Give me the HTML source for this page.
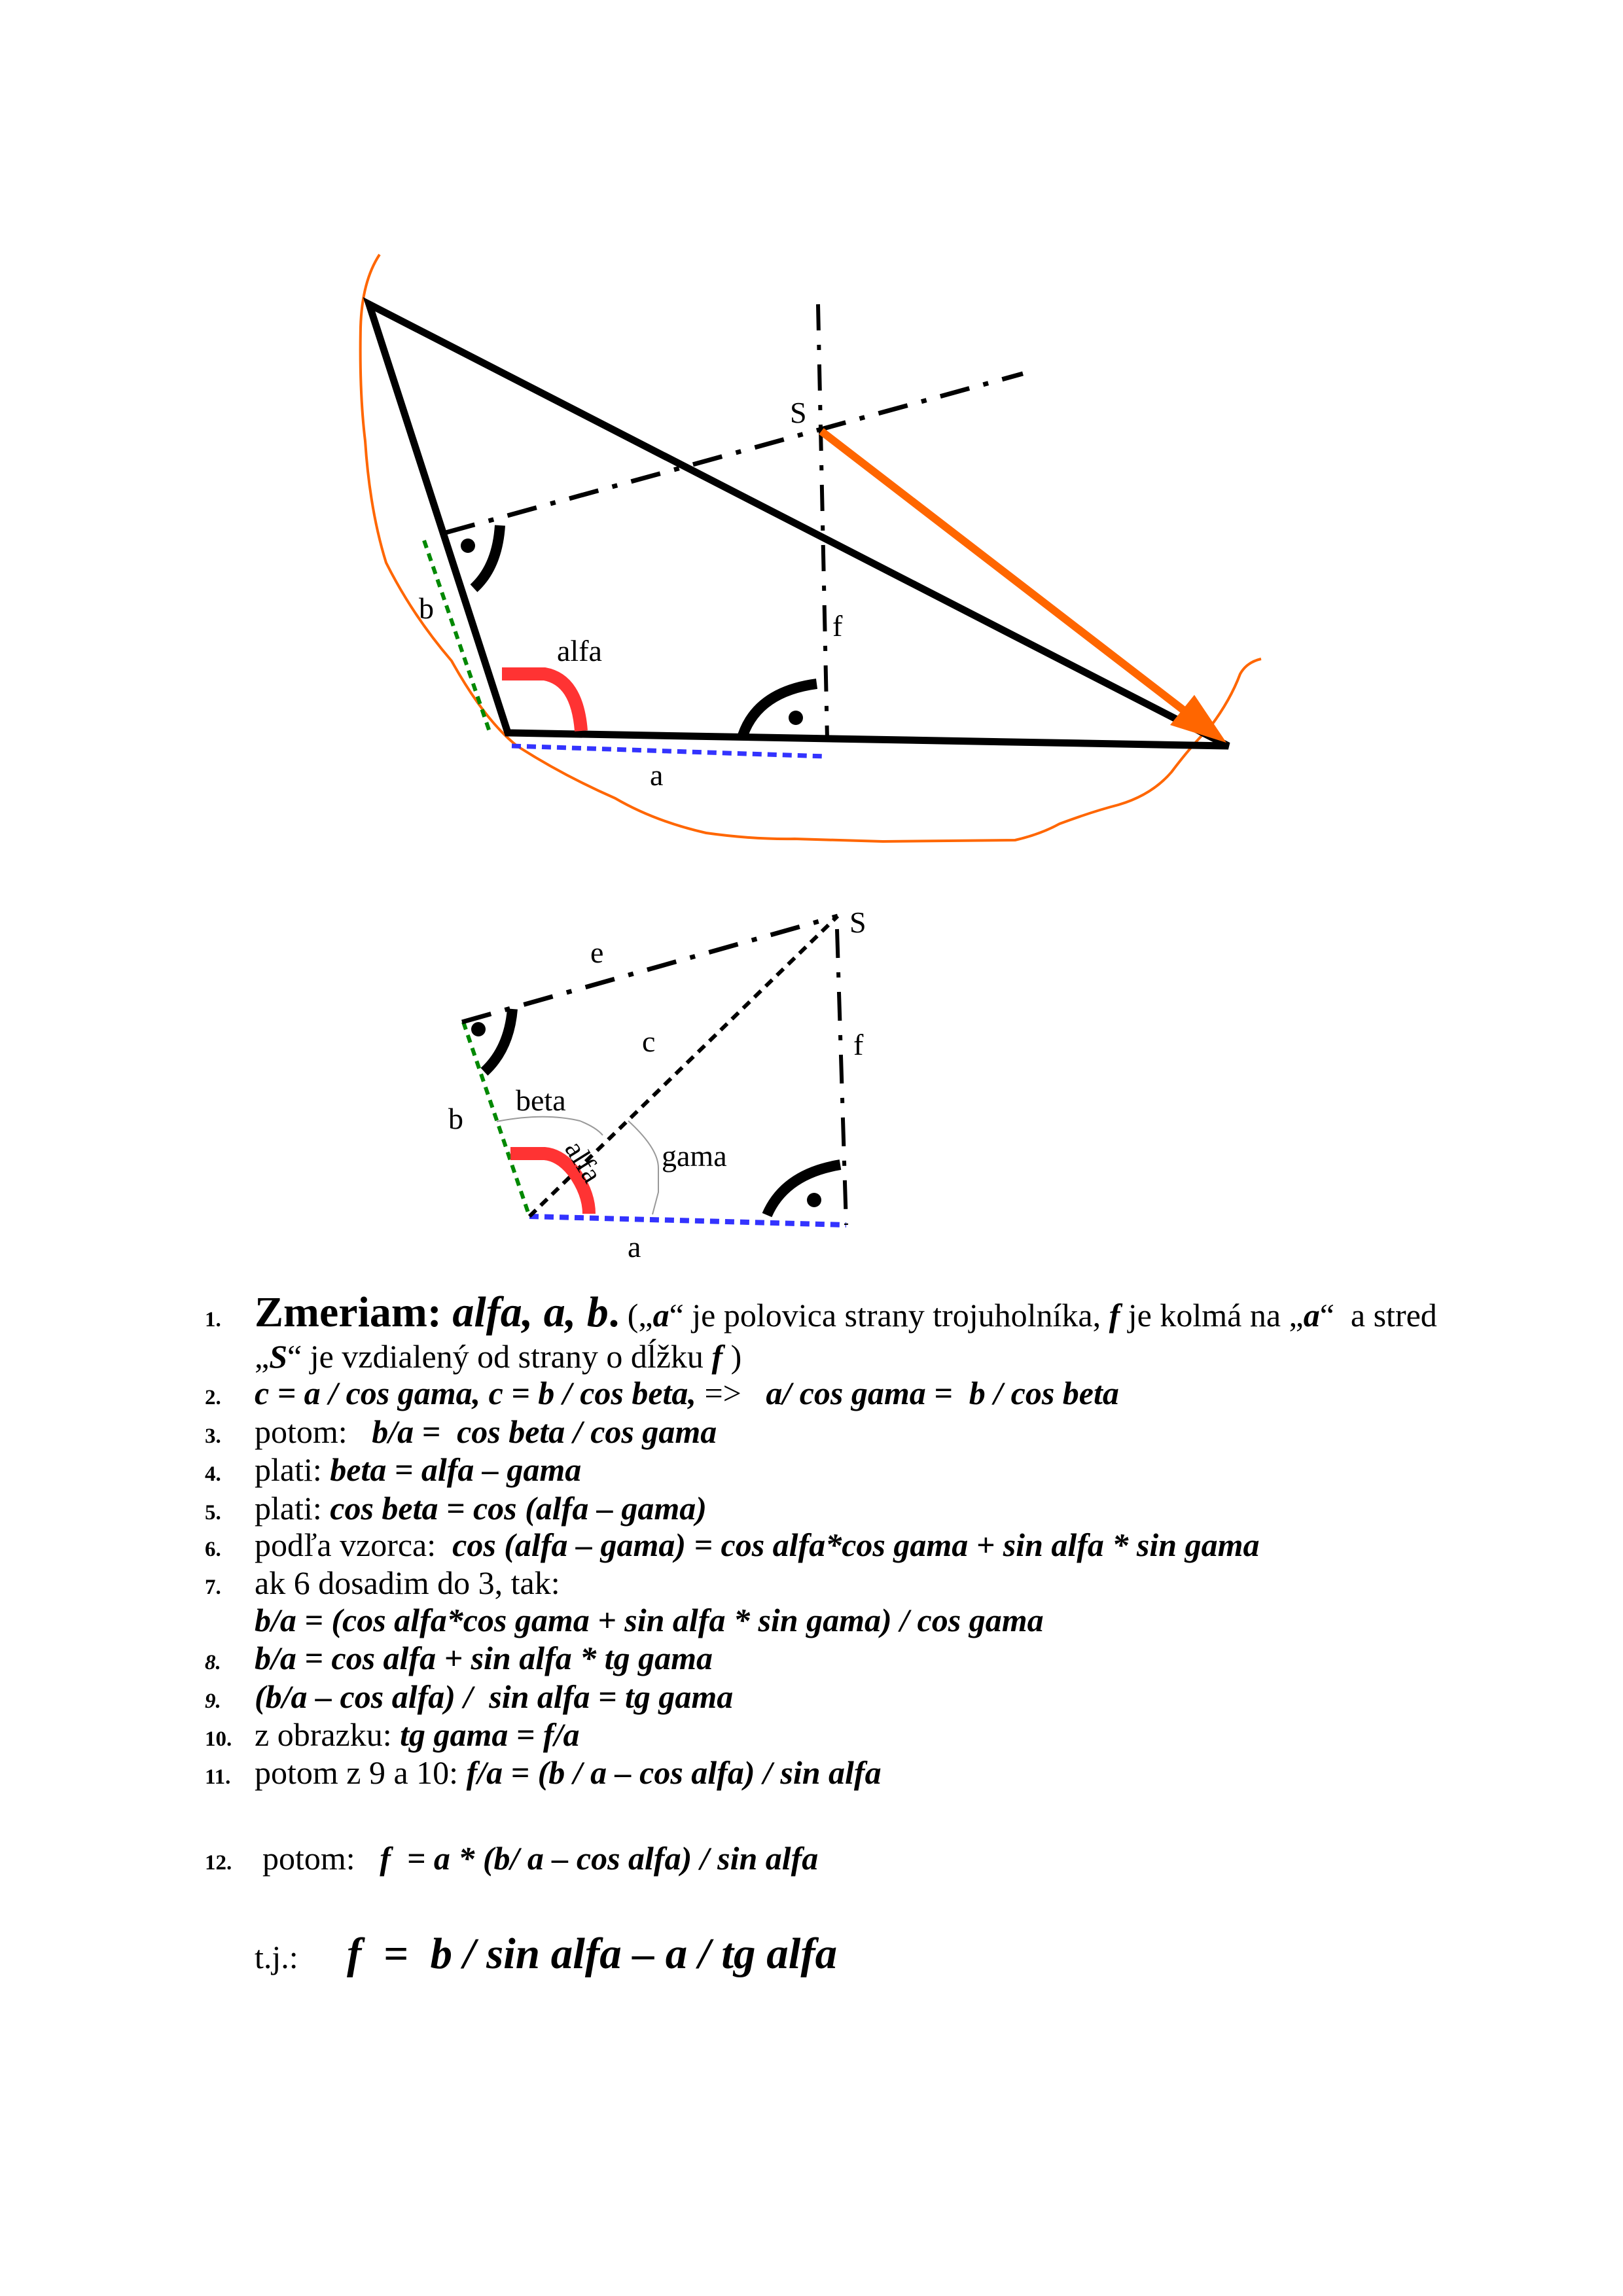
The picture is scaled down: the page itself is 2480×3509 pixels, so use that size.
<!DOCTYPE html>
<html><head><meta charset="utf-8"><style>
html,body{margin:0;padding:0;background:#fff}
svg{display:block}
text{font-family:"Liberation Serif",serif;fill:#000;white-space:pre}
.b{font-weight:bold}.i{font-style:italic}.bi{font-weight:bold;font-style:italic}
</style></head><body>
<svg width="2480" height="3509" viewBox="0 0 2480 3509" xmlns="http://www.w3.org/2000/svg" xml:space="preserve">
<rect width="2480" height="3509" fill="#fff"/>
<!-- TOP DIAGRAM -->
<path d="M580,389 Q553,430 551,500 Q549,600 558,674 Q565,780 590,860 Q630,940 690,1010 Q740,1100 790,1140 Q860,1185 940,1220 Q1000,1255 1079,1273 Q1150,1283 1214,1282 L1349,1286 L1551,1284 Q1590,1275 1619,1259 Q1670,1240 1709,1230 Q1760,1215 1790,1180 Q1820,1140 1850,1110 Q1880,1070 1895,1030 Q1905,1012 1927,1007" fill="none" stroke="#f60" stroke-width="4" stroke-linejoin="round"/>
<line x1="648" y1="826" x2="748" y2="1118" stroke="#080" stroke-width="6" stroke-dasharray="12 9"/>
<line x1="782" y1="1140" x2="1262" y2="1156" stroke="#33f" stroke-width="7" stroke-dasharray="14 9"/>
<polygon points="564,465 776,1120 1877,1140" fill="none" stroke="#000" stroke-width="11" stroke-linejoin="miter"/>
<line x1="1250" y1="465" x2="1264" y2="1130" stroke="#000" stroke-width="6" stroke-dasharray="40 22 8 22"/>
<line x1="681" y1="814" x2="1563" y2="571" stroke="#000" stroke-width="7" stroke-dasharray="46 22 8 22"/>
<line x1="1255" y1="659" x2="1812" y2="1088" stroke="#f60" stroke-width="12"/>
<polygon points="1874,1135 1825,1062 1788,1108" fill="#f60"/>
<path d="M764,803 Q760,866 724,899" fill="none" stroke="#000" stroke-width="16"/>
<circle cx="715" cy="834" r="11" fill="#000"/>
<path d="M1248,1045 Q1158,1057 1135,1124" fill="none" stroke="#000" stroke-width="16"/>
<circle cx="1216" cy="1097" r="11" fill="#000"/>
<path d="M767,1030 L832,1030 Q882,1039 888,1117" fill="none" stroke="#f33" stroke-width="20"/>
<text x="1207" y="646" font-size="46">S</text>
<text x="640" y="945" font-size="46">b</text>
<text x="851" y="1010" font-size="46">alfa</text>
<text x="1272" y="972" font-size="46">f</text>
<text x="993" y="1200" font-size="46">a</text>
<!-- BOTTOM DIAGRAM -->
<g transform="translate(-4,-5)">
<line x1="712" y1="1567" x2="813" y2="1864" stroke="#080" stroke-width="6" stroke-dasharray="12 9"/>
<line x1="813" y1="1864" x2="1297" y2="1877" stroke="#33f" stroke-width="8" stroke-dasharray="14 9"/>
<line x1="813" y1="1864" x2="1284" y2="1405" stroke="#000" stroke-width="6" stroke-dasharray="14 10"/>
<line x1="710" y1="1567" x2="1284" y2="1405" stroke="#000" stroke-width="7" stroke-dasharray="46 22 8 22"/>
<line x1="1283" y1="1425" x2="1297" y2="1877" stroke="#000" stroke-width="6" stroke-dasharray="44 22 8 22"/>
<path d="M763,1719 Q835,1705 890,1718 Q915,1728 925,1740" fill="none" stroke="#999" stroke-width="2"/>
<path d="M964,1718 Q1010,1760 1010,1790 L1010,1827 L1001,1861" fill="none" stroke="#999" stroke-width="2"/>
<path d="M787,1547 Q782,1608 744,1643" fill="none" stroke="#000" stroke-width="16"/>
<circle cx="735" cy="1578" r="11" fill="#000"/>
<path d="M1288,1785 Q1203,1799 1176,1862" fill="none" stroke="#000" stroke-width="16"/>
<circle cx="1248" cy="1839" r="11" fill="#000"/>
<path d="M784,1768 L836,1768 Q860,1770 880,1795 Q904,1828 904,1860" fill="none" stroke="#f33" stroke-width="20"/>
<text x="1302" y="1430" font-size="46">S</text>
<text x="906" y="1476" font-size="46">e</text>
<text x="985" y="1612" font-size="46">c</text>
<text x="1308" y="1617" font-size="46">f</text>
<text x="689" y="1730" font-size="46">b</text>
<text x="792" y="1702" font-size="46">beta</text>
<text x="1015" y="1787" font-size="46">gama</text>
<text x="963" y="1926" font-size="46">a</text>
<text x="0" y="0" font-size="44" transform="translate(866,1760) rotate(58)">alfa</text>
</g>
<!-- TEXT -->
<g font-size="50">
<text x="313" y="2027" font-size="33" class="b">1.</text>
<text x="389" y="2027"><tspan class="b" font-size="66">Zmeriam: </tspan><tspan class="bi" font-size="66">alfa, a, b</tspan><tspan class="b" font-size="66">.</tspan> („<tspan class="bi">a</tspan>“ je polovica strany trojuholníka, <tspan class="bi">f</tspan> je kolmá na „<tspan class="bi">a</tspan>“  a stred</text>
<text x="389" y="2090">„<tspan class="bi">S</tspan>“ je vzdialený od strany o dĺžku <tspan class="bi">f</tspan> )</text>
<text x="313" y="2146" font-size="33" class="b">2.</text>
<text x="389" y="2146" class="bi">c = a / cos gama, c = b / cos beta, <tspan font-weight="normal" font-style="normal">=&gt;</tspan>   a/ cos gama =  b / cos beta</text>
<text x="313" y="2205" font-size="33" class="b">3.</text>
<text x="389" y="2205">potom:   <tspan class="bi">b/a =  cos beta / cos gama</tspan></text>
<text x="313" y="2263" font-size="33" class="b">4.</text>
<text x="389" y="2263">plati: <tspan class="bi">beta = alfa – gama</tspan></text>
<text x="313" y="2322" font-size="33" class="b">5.</text>
<text x="389" y="2322">plati: <tspan class="bi">cos beta = cos (alfa – gama)</tspan></text>
<text x="313" y="2378" font-size="33" class="b">6.</text>
<text x="389" y="2378">podľa vzorca:  <tspan class="bi">cos (alfa – gama) = cos alfa*cos gama + sin alfa * sin gama</tspan></text>
<text x="313" y="2436" font-size="33" class="b">7.</text>
<text x="389" y="2436">ak 6 dosadim do 3, tak:</text>
<text x="389" y="2493" class="bi">b/a = (cos alfa*cos gama + sin alfa * sin gama) / cos gama</text>
<text x="313" y="2551" font-size="33" class="bi">8.</text>
<text x="389" y="2551" class="bi">b/a = cos alfa + sin alfa * tg gama</text>
<text x="313" y="2610" font-size="33" class="bi">9.</text>
<text x="389" y="2610" class="bi">(b/a – cos alfa) /  sin alfa = tg gama</text>
<text x="313" y="2668" font-size="33" class="b">10.</text>
<text x="389" y="2668">z obrazku: <tspan class="bi">tg gama = f/a</tspan></text>
<text x="313" y="2726" font-size="33" class="b">11.</text>
<text x="389" y="2726">potom z 9 a 10: <tspan class="bi">f/a = (b / a – cos alfa) / sin alfa</tspan></text>
<text x="313" y="2857" font-size="33" class="b">12.</text>
<text x="401" y="2857">potom:   <tspan class="bi">f  = a * (b/ a – cos alfa) / sin alfa</tspan></text>
<text x="389" y="3008">t.j.:</text>
<text x="530" y="3008" class="bi" font-size="67">f  =  b / sin alfa – a / tg alfa</text>
</g>
</svg>
</body></html>
